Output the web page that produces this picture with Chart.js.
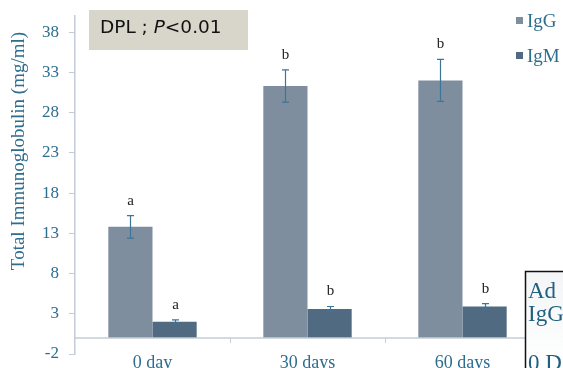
<!DOCTYPE html>
<html>
<head>
<meta charset="utf-8">
<script src="https://cdn.jsdelivr.net/npm/chart.js@4"></script>
<style>
  html, body { margin: 0; padding: 0; background: #fff; }
  #wrap { width: 563px; height: 368px; position: relative; }
</style>
</head>
<body>
<div id="wrap"><canvas id="chart" width="563" height="368"></canvas></div>
<script>
// data
const categories = ['0 day', '30 days', '60 days'];
const iggValues = [13.8, 31.3, 32.0];
const iggErrors = [1.4, 2.0, 2.6];
const igmValues = [2.0, 3.6, 3.9];
const igmErrors = [0.25, 0.3, 0.35];
const iggLetters = ['a', 'b', 'b'];
const igmLetters = ['a', 'b', 'b'];
const yTicks = [-2, 3, 8, 13, 18, 23, 28, 33, 38];

const teal = '#2d6d8e';
const axisGrey = '#c3ccd5';
const serif = '"Liberation Serif", "DejaVu Serif", serif';

// error bars, letters, zero line, legend and the two boxes
const extras = {
    id: 'extras',
    afterDatasetsDraw(chart) {
        const ctx = chart.ctx;
        const y = chart.scales.y;
        const area = chart.chartArea;

        // baseline at 0 with category separators
        const y0 = y.getPixelForValue(0);
        ctx.save();
        ctx.strokeStyle = axisGrey;
        ctx.lineWidth = 1.5;
        ctx.beginPath();
        ctx.moveTo(area.left, y0);
        ctx.lineTo(chart.width, y0);
        ctx.stroke();
        const step = (area.right - area.left) / categories.length;
        ctx.lineWidth = 1;
        for (let i = 1; i < categories.length; i++) {
            const sx = Math.round(area.left + step * i) + 0.5;
            ctx.beginPath();
            ctx.moveTo(sx, y0);
            ctx.lineTo(sx, y0 + 5);
            ctx.stroke();
        }

        // error bars + letters
        const series = [
            [iggValues, iggErrors, iggLetters],
            [igmValues, igmErrors, igmLetters]
        ];
        series.forEach(([vals, errs, letters], d) => {
            const meta = chart.getDatasetMeta(d);
            meta.data.forEach((bar, i) => {
                const cx = Math.round(bar.x) + 0.5;
                const top = y.getPixelForValue(vals[i] + errs[i]);
                const bot = y.getPixelForValue(vals[i] - errs[i]);
                ctx.strokeStyle = '#3c7596';
                ctx.lineWidth = 1.2;
                ctx.beginPath();
                ctx.moveTo(cx, top); ctx.lineTo(cx, bot);
                ctx.moveTo(cx - 3.5, top); ctx.lineTo(cx + 3.5, top);
                ctx.moveTo(cx - 3.5, bot); ctx.lineTo(cx + 3.5, bot);
                ctx.stroke();
                ctx.fillStyle = '#222';
                ctx.font = '15px ' + serif;
                ctx.textAlign = 'center';
                ctx.textBaseline = 'middle';
                ctx.fillText(letters[i], cx, top - 15);
            });
        });

        // y axis title
        ctx.save();
        ctx.translate(19, 151);
        ctx.rotate(-Math.PI / 2);
        ctx.fillStyle = teal;
        ctx.font = '19px ' + serif;
        ctx.textAlign = 'center';
        ctx.textBaseline = 'middle';
        ctx.fillText('Total Immunoglobulin (mg/ml)', 0, 0);
        ctx.restore();

        // legend
        chart.data.datasets.forEach((ds, i) => {
            const ly = 21 + i * 35;
            ctx.fillStyle = ds.backgroundColor;
            ctx.fillRect(516, ly - 4, 7, 7);
            ctx.fillStyle = teal;
            ctx.font = '19px ' + serif;
            ctx.textAlign = 'left';
            ctx.textBaseline = 'middle';
            ctx.fillText(ds.label, 527, ly + 1);
        });

        // DPL box
        ctx.fillStyle = '#d8d6cb';
        ctx.fillRect(89, 10, 159, 40);
        ctx.fillStyle = '#111';
        ctx.textBaseline = 'middle';
        ctx.textAlign = 'left';
        ctx.font = '18.5px "DejaVu Sans", sans-serif';
        let tx = 100;
        ctx.fillText('DPL ; ', tx, 28);
        tx += ctx.measureText('DPL ; ').width;
        ctx.font = 'italic 18.5px "DejaVu Sans", sans-serif';
        ctx.fillText('P', tx, 28);
        tx += ctx.measureText('P').width;
        ctx.font = '18.5px "DejaVu Sans", sans-serif';
        ctx.fillText('<0.01', tx, 28);

        // clipped note box at bottom right
        const g = ctx.createLinearGradient(0, 271, 0, 368);
        g.addColorStop(0, '#f3f5f6');
        g.addColorStop(1, '#ffffff');
        ctx.fillStyle = g;
        ctx.fillRect(525, 271, 40, 100);
        ctx.strokeStyle = '#111';
        ctx.lineWidth = 1.5;
        ctx.strokeRect(525.5, 271.5, 60, 120);
        ctx.fillStyle = '#1f5f80';
        ctx.font = '23px ' + serif;
        ctx.textBaseline = 'alphabetic';
        ctx.fillText('Ad', 528, 298);
        ctx.fillText('IgG', 528, 321);
        ctx.fillText('0 D', 528, 370);
        ctx.restore();
    }
};

new Chart(document.getElementById('chart'), {
    type: 'bar',
    data: {
        labels: categories,
        datasets: [{
            label: 'IgG',
            data: iggValues,
            backgroundColor: '#7f8e9e',
            categoryPercentage: 0.57,
            barPercentage: 1.0
        }, {
            label: 'IgM',
            data: igmValues,
            backgroundColor: '#4f6a81',
            categoryPercentage: 0.57,
            barPercentage: 1.0
        }]
    },
    options: {
        responsive: false,
        animation: false,
        layout: { padding: { top: 16, right: 23, left: 0, bottom: 0 } },
        plugins: { legend: { display: false }, tooltip: { enabled: false } },
        scales: {
            x: {
                grid: { display: false, drawTicks: false },
                border: { display: false },
                ticks: { color: teal, font: { family: serif, size: 18 }, padding: -2, maxRotation: 0 },
                afterFit(scale) { scale.height = 14; }
            },
            y: {
                min: -2,
                max: 40,
                afterBuildTicks(scale) { scale.ticks = yTicks.map(v => ({ value: v })); },
                grid: { drawOnChartArea: false, tickLength: 6, color: axisGrey },
                border: { color: axisGrey, width: 1.5 },
                ticks: { color: teal, font: { family: serif, size: 17 }, padding: 10 },
                afterFit(scale) {
                    scale.width = 75;
                    scale.paddingTop = 0;
                    scale.paddingBottom = 0;
                }
            }
        }
    },
    plugins: [extras]
});
</script>
</body>
</html>
